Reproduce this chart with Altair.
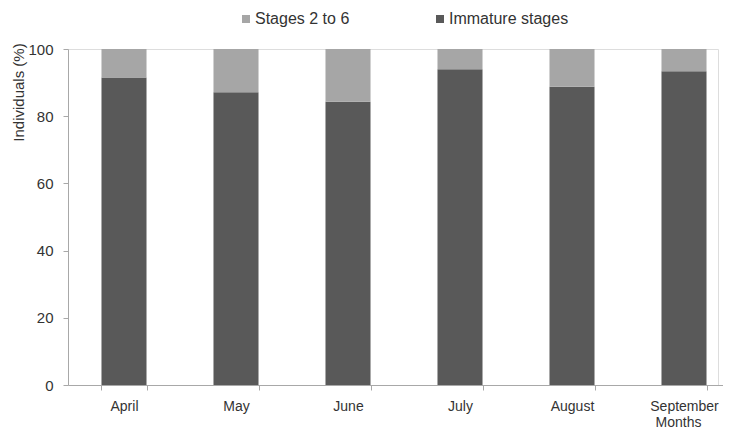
import altair as alt
import pandas as pd

months = ["April", "May", "June", "July", "August", "September"]
immature = [91.5, 87.1, 84.3, 94.0, 88.8, 93.4]
stages = [8.5, 12.9, 15.7, 6.0, 11.2, 6.6]
series = ["Stages 2 to 6", "Immature stages"]
colors = ["#a6a6a6", "#595959"]

rows = []
for m, a, b in zip(months, immature, stages):
    rows.append({"Month": m, "Series": "Immature stages", "Value": a, "ord": 0})
    rows.append({"Month": m, "Series": "Stages 2 to 6", "Value": b, "ord": 1})
df = pd.DataFrame(rows)

FONT = "Liberation Sans"
TXT = "#333333"
AX = "#a8a8a8"

chart = alt.Chart(df).mark_bar().encode(
    x=alt.X(
        "Month:N",
        sort=months,
        scale=alt.Scale(range=[0, 672], paddingInner=0.598, paddingOuter=0.299),
        axis=alt.Axis(
            title="Months",
            titleX=610, titleY=37, titleAlign="center", titleBaseline="middle",
            titleFont=FONT, titleFontSize=14, titleFontWeight="normal", titleColor=TXT,
            labelAngle=0, labelFont=FONT, labelFontSize=14, labelColor=TXT, labelPadding=9,
            tickBand="extent", tickSize=5, tickColor=AX, domainColor=AX, grid=False,
        ),
    ),
    y=alt.Y(
        "Value:Q",
        stack="zero",
        scale=alt.Scale(domain=[0, 100], nice=False),
        axis=alt.Axis(
            title="Individuals (%)", values=[0, 20, 40, 60, 80, 100],
            titleX=-50, titleY=43, titleAngle=270, titleAlign="center", titleBaseline="middle",
            titleFont=FONT, titleFontSize=15, titleFontWeight="normal", titleColor=TXT,
            labelFont=FONT, labelFontSize=15, labelColor=TXT, labelPadding=10,
            tickSize=5, tickColor=AX, domainColor=AX, grid=False,
        ),
    ),
    color=alt.Color(
        "Series:N",
        scale=alt.Scale(domain=series, range=colors),
        legend=alt.Legend(
            title=None, orient="none", direction="horizontal",
            legendX=170, legendY=-38, symbolType="square", symbolSize=64,
            symbolStrokeWidth=0, labelFont=FONT, labelFontSize=16, labelColor=TXT,
            labelOffset=1, columnPadding=82, padding=0,
        ),
    ),
    order=alt.Order("ord:Q"),
).properties(
    width=650, height=336,
    autosize=alt.AutoSizeParams(type="none"),
    padding={"left": 60, "top": 41, "right": 5, "bottom": 46},
).configure_view(stroke=None).configure(background="white")

chart.save("out.html", embed_options={"renderer": "svg", "actions": False})
